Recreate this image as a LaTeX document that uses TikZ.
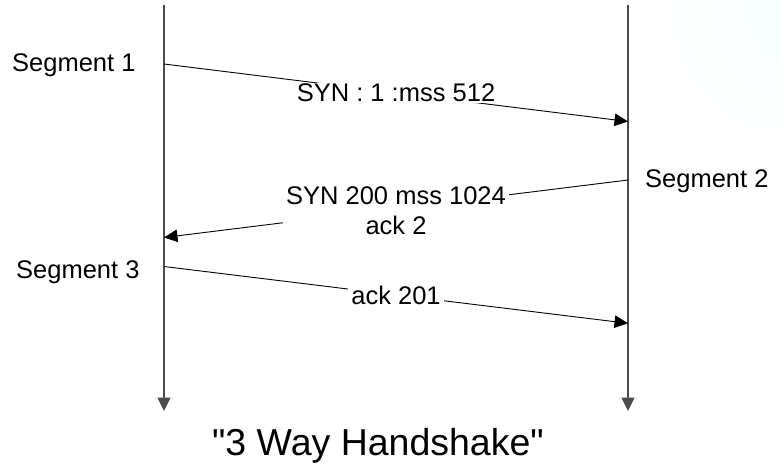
\documentclass[tikz,border=0pt]{standalone}
\usepackage{fontspec}
\setmainfont{Liberation Sans}
% same face without TeX input ligatures, so " stays a straight quote
\newfontfamily\plainsans{Liberation Sans}
\usetikzlibrary{arrows.meta}

\begin{document}
\begin{tikzpicture}[x=1pt,y=-1pt,
  lifeline/.style={draw=black!70,line width=1.1pt,
    -{Triangle[length=13.5pt,width=13pt]}},
  msg/.style={draw=black,line width=0.9pt,
    -{Triangle[length=13.5pt,width=12.5pt]}},
  seglabel/.style={font=\fontsize{25.5}{30}\selectfont,inner sep=0pt,anchor=base west},
  msglabel/.style={font=\fontsize{25.5}{30}\selectfont,fill=white,
    inner xsep=3pt,inner ysep=1pt,align=center},
  titlelabel/.style={font=\plainsans\fontsize{37.5}{44}\selectfont,inner sep=0pt,anchor=base}]

  % canvas
  \useasboundingbox (0,0) rectangle (782,468);
  \fill[white] (0,0) rectangle (782,468);
  % faint slide backdrop in the upper right corner
  \begin{scope}
    \clip (620,0) rectangle (782,130);
    \shade[inner color=blue!5!cyan!3,outer color=white] (800,10) circle (140);
  \end{scope}

  % endpoints on the two time lines
  \coordinate (atop) at (164,5);
  \coordinate (abot) at (164,411);
  \coordinate (btop) at (628,5);
  \coordinate (bbot) at (628,411);
  \coordinate (a1) at (164,64);
  \coordinate (b1) at (628,121.5);
  \coordinate (b2) at (628,180);
  \coordinate (a2) at (164,237.5);
  \coordinate (a3) at (164,266.5);
  \coordinate (b3) at (628,323.3);

  % time lines of the two hosts
  \draw[lifeline] (atop) -- (abot);
  \draw[lifeline] (btop) -- (bbot);

  % segment names
  \node[seglabel] (seg1) at (12,72) {Segment 1};
  \node[seglabel] (seg2) at (645,187) {Segment 2};
  \node[seglabel] (seg3) at (16,278) {Segment 3};

  % the three segments of the handshake
  \draw[msg] (a1) -- (b1) node[msglabel,pos=0.5] (m1) {SYN : 1 :mss 512};
  \draw[msg] (b2) -- (a2) node[msglabel,pos=0.5,yshift=-1.5pt] (m2) {SYN 200 mss 1024\\ack 2};
  \draw[msg] (a3) -- (b3) node[msglabel,pos=0.5] (m3) {ack 201};

  % caption
  \node[titlelabel] (title) at (378,455) {"3 Way Handshake"};
\end{tikzpicture}
\end{document}
